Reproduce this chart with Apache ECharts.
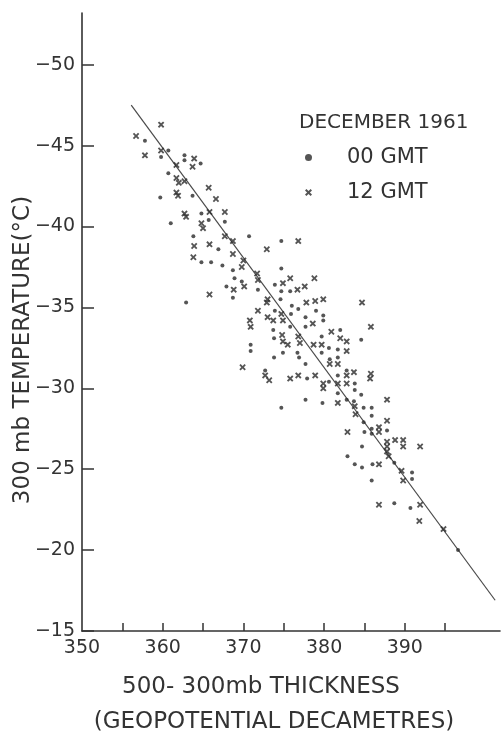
<!DOCTYPE html>
<html>
<head>
<meta charset="utf-8">
<script src="https://cdn.jsdelivr.net/npm/echarts@6/dist/echarts.min.js"></script>
<style>
  html, body { margin: 0; padding: 0; background: #ffffff; }
  #chart { width: 502px; height: 735px; }
</style>
</head>
<body>
<div id="chart"></div>
<script>
// 00 GMT soundings: 500-300 mb thickness (dam) and 300 mb temperature (°C)
const thickness00 = [
  357.8, 360.7, 359.8, 362.7, 362.7, 364.7, 360.7, 359.7, 363.7, 364.8,
  365.7, 367.7, 361.0, 363.8, 370.7, 366.9, 364.8, 366.0, 367.4, 368.7,
  368.9, 369.8, 367.9, 371.8, 368.7, 362.9, 370.9, 370.9, 374.7, 374.7,
  373.9, 374.7, 375.8, 374.6, 376.0, 376.8, 379.0, 373.9, 375.9, 377.7,
  379.9, 379.9, 377.7, 375.8, 373.7, 373.8, 379.7, 382.0, 384.6, 374.9,
  376.7, 376.9, 373.8, 379.7, 380.6, 377.7, 372.7, 377.9, 380.6, 377.7,
  379.8, 374.7, 381.7, 380.7, 381.7, 382.8, 381.7, 383.8, 383.8, 381.7,
  384.6, 382.8, 383.7, 384.9, 385.9, 385.9, 384.9, 385.9, 387.8, 385.0,
  385.9, 384.7, 382.9, 383.8, 386.0, 388.7, 384.7, 390.9, 390.9, 385.9,
  388.7, 390.7, 396.6
];
const temp00 = [
  -45.3, -44.7, -44.3, -44.4, -44.1, -43.9, -43.3, -41.8, -41.9, -40.8,
  -40.4, -40.3, -40.2, -39.4, -39.4, -38.6, -37.8, -37.8, -37.6, -37.3,
  -36.8, -36.6, -36.3, -36.1, -35.6, -35.3, -32.7, -32.3, -39.1, -37.4,
  -36.4, -36.0, -36.0, -35.5, -35.1, -34.9, -34.8, -34.8, -34.6, -34.4,
  -34.5, -34.2, -33.8, -33.8, -33.6, -33.1, -33.2, -33.6, -33.0, -32.2,
  -32.2, -31.9, -31.9, -32.2, -32.5, -31.5, -31.1, -30.6, -30.4, -29.3,
  -29.1, -28.8, -32.4, -31.8, -31.9, -31.1, -30.8, -30.3, -29.9, -29.7,
  -29.6, -29.3, -29.2, -28.8, -28.8, -28.3, -27.9, -27.5, -27.4, -27.3,
  -27.2, -26.4, -25.8, -25.3, -25.3, -25.4, -25.1, -24.8, -24.4, -24.3,
  -22.9, -22.6, -20.0
];

// 12 GMT soundings
const thickness12 = [
  359.8, 356.7, 357.8, 359.8, 363.9, 363.7, 361.7, 361.7, 362.0, 362.7,
  365.7, 361.7, 361.9, 366.6, 362.7, 362.9, 365.8, 367.7, 364.8, 365.0,
  367.7, 368.7, 363.9, 365.8, 368.7, 363.8, 370.0, 369.8, 371.7, 371.8,
  370.1, 368.8, 365.8, 371.8, 370.8, 370.9, 372.9, 376.8, 375.8, 378.8,
  374.9, 377.6, 376.7, 373.0, 372.9, 377.8, 378.9, 379.9, 384.7, 374.7,
  373.0, 373.7, 374.9, 378.6, 374.8, 376.8, 374.9, 380.9, 382.0, 382.8,
  377.0, 378.7, 385.8, 375.5, 379.7, 369.9, 372.7, 373.2, 375.8, 376.8,
  378.9, 379.9, 379.9, 382.8, 380.7, 381.7, 383.7, 382.8, 385.8, 385.7,
  381.7, 382.8, 381.7, 387.8, 383.8, 383.9, 387.8, 386.8, 386.8, 382.9,
  388.8, 389.8, 387.8, 387.8, 391.9, 387.8, 389.8, 388.0, 386.8, 389.6,
  389.8, 386.8, 391.9, 391.8, 394.8
];
const temp12 = [
  -46.3, -45.6, -44.4, -44.7, -44.2, -43.7, -43.8, -43.0, -42.7, -42.8,
  -42.4, -42.1, -41.9, -41.7, -40.8, -40.6, -40.9, -40.9, -40.2, -39.9,
  -39.4, -39.1, -38.8, -38.9, -38.3, -38.1, -37.9, -37.5, -37.1, -36.7,
  -36.3, -36.1, -35.8, -34.8, -34.2, -33.8, -38.6, -39.1, -36.8, -36.8,
  -36.5, -36.3, -36.1, -35.5, -35.3, -35.3, -35.4, -35.5, -35.3, -34.6,
  -34.4, -34.2, -34.2, -34.0, -33.3, -33.2, -32.9, -33.5, -33.1, -32.9,
  -32.8, -32.7, -33.8, -32.7, -32.7, -31.3, -30.8, -30.5, -30.6, -30.8,
  -30.8, -30.3, -30.0, -32.3, -31.5, -31.5, -31.0, -30.8, -30.9, -30.6,
  -30.3, -30.3, -29.1, -29.3, -28.9, -28.4, -28.0, -27.6, -27.3, -27.3,
  -26.8, -26.8, -26.4, -26.7, -26.4, -26.1, -26.4, -25.8, -25.3, -24.9,
  -24.3, -22.8, -22.8, -21.8, -21.3
];

// Fitted regression line (end points)
const fitThickness = [356.1, 401.2];
const fitTemp = [-47.5, -16.9];

// Axis ticks and labels
const xTickValues = [355, 360, 365, 370, 375, 380, 385, 390, 395];
const xLabelValues = [350, 360, 370, 380, 390];
const yTickValues = [-50, -45, -40, -35, -30, -25, -20, -15];

const INK = '#333333';
const MARK = '#2b2b2b';
const FONT = 'DejaVu Sans';
const CROSS = 'path://M0,2L2,0L5,3L8,0L10,2L7,5L10,8L8,10L5,7L2,10L0,8L3,5Z';

const zip = (xs, ys) => xs.map((x, i) => [x, ys[i]]);

const chart = echarts.init(document.getElementById('chart'), null, { renderer: 'canvas' });

chart.setOption({
  backgroundColor: '#ffffff',
  animation: false,
  title: {
    text: 'DECEMBER 1961',
    left: 299,
    top: 113,
    padding: 0,
    textStyle: { fontFamily: FONT, fontSize: 20, fontWeight: 'normal', color: INK }
  },
  legend: {
    orient: 'vertical',
    left: 305,
    top: 147,
    padding: 0,
    itemWidth: 7,
    itemHeight: 7,
    itemGap: 14,
    textStyle: { fontFamily: FONT, fontSize: 21, color: INK, padding: [0, 0, 0, 30] },
    data: [
      { name: '00 GMT', icon: 'circle' },
      { name: '12 GMT', icon: CROSS }
    ]
  },
  grid: { left: 82, right: 2, top: 13, bottom: 104 },
  xAxis: {
    type: 'value',
    min: 350,
    max: 401.8,
    splitLine: { show: false },
    axisLine: { show: true, lineStyle: { color: INK, width: 1.6 } },
    axisTick: { show: true, inside: true, length: 8, customValues: xTickValues, lineStyle: { color: INK, width: 1.5 } },
    axisLabel: {
      customValues: xLabelValues,
      margin: 8,
      fontFamily: FONT,
      fontSize: 19,
      color: INK
    }
  },
  yAxis: {
    type: 'value',
    inverse: true,
    min: -53.2,
    max: -15,
    splitLine: { show: false },
    axisLine: { show: true, onZero: false, lineStyle: { color: INK, width: 1.6 } },
    axisTick: { show: true, inside: true, length: 12, customValues: yTickValues, lineStyle: { color: INK, width: 1.5 } },
    axisLabel: {
      customValues: yTickValues,
      margin: 7,
      fontFamily: FONT,
      fontSize: 19,
      color: INK,
      formatter: v => (v < 0 ? '\u2212' : '') + Math.abs(v)
    }
  },
  graphic: [
    {
      type: 'text', x: 23, y: 350, rotation: Math.PI / 2,
      style: { text: '300 mb TEMPERATURE(\u00B0C)', font: '23px ' + FONT, fill: INK, align: 'center', verticalAlign: 'middle' }
    },
    {
      type: 'text', x: 261, y: 687,
      style: { text: '500- 300mb THICKNESS', font: '23px ' + FONT, fill: INK, align: 'center', verticalAlign: 'middle' }
    },
    {
      type: 'text', x: 274, y: 722,
      style: { text: '(GEOPOTENTIAL DECAMETRES)', font: '23px ' + FONT, fill: INK, align: 'center', verticalAlign: 'middle' }
    }
  ],
  series: [
    {
      name: 'fit',
      type: 'line',
      data: zip(fitThickness, fitTemp),
      symbol: 'none',
      silent: true,
      lineStyle: { color: '#4a4a4a', width: 1.2 },
      z: 1
    },
    {
      name: '00 GMT',
      type: 'scatter',
      data: zip(thickness00, temp00),
      symbol: 'circle',
      symbolSize: 4,
      itemStyle: { color: MARK },
      z: 3
    },
    {
      name: '12 GMT',
      type: 'scatter',
      data: zip(thickness12, temp12),
      symbol: CROSS,
      symbolSize: 6.5,
      itemStyle: { color: MARK },
      z: 3
    }
  ]
});
</script>
</body>
</html>
